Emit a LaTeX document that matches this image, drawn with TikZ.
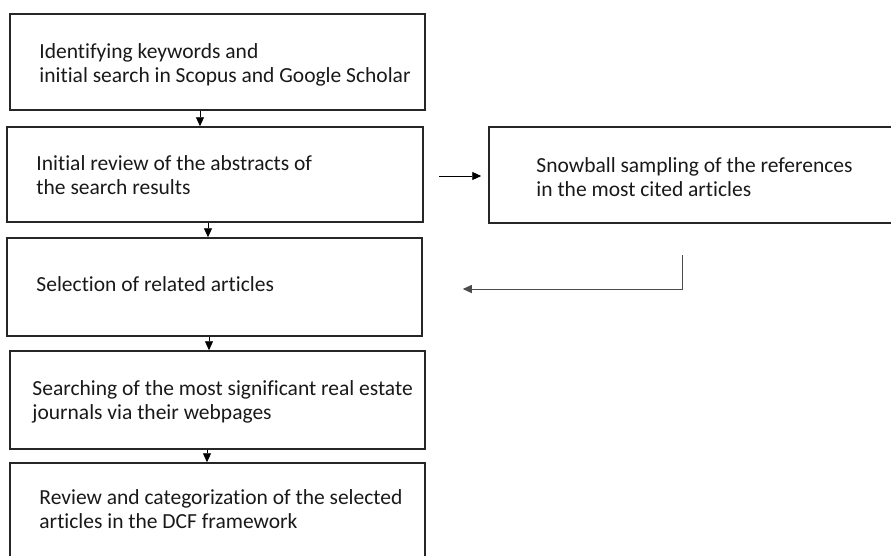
\documentclass[tikz,border=0pt]{standalone}
\usepackage{fontspec}
\setmainfont{Carlito}[Ligatures=NoCommon]
\usetikzlibrary{arrows.meta}
\begin{document}
\begin{tikzpicture}[x=1pt, y=-1pt]
\tikzset{
    every node/.style={align=left},
    stepbox/.style={draw=black!85, line width=1.5pt, inner sep=0pt},
    steptext/.style={anchor=west, inner sep=0pt, font=\fontsize{21.5}{24}\selectfont, text=black!90},
    flow/.style={-{Triangle[width=8pt,length=9pt]}, line width=0.9pt}
}
\useasboundingbox (0,0) rectangle (891,555);

% boxes
\node[stepbox, minimum width=415pt, minimum height=96pt] (s1) at (217.5,62) {};
\node[stepbox, minimum width=416pt, minimum height=95pt] (s2) at (215,174.5) {};
\node[stepbox, minimum width=404pt, minimum height=96pt] (snow) at (691,175) {};
\node[stepbox, minimum width=415pt, minimum height=98pt] (s3) at (214.5,287) {};
\node[stepbox, minimum width=415pt, minimum height=98pt] (s4) at (217.5,400) {};
\node[stepbox, minimum width=415pt, minimum height=98pt] (s5) at (217.5,512) {};

% texts
\node[steptext] (t1) at ([xshift=30pt,yshift=-2.5pt]s1.west)
    {Identifying keywords and\\initial search in Scopus and Google Scholar};
\node[steptext] (t2) at ([xshift=30pt,yshift=-0.75pt]s2.west)
    {Initial review of the abstracts of\\the search results};
\node[steptext] (tsnow) at ([xshift=48pt,yshift=-2.25pt]snow.west)
    {Snowball sampling of the references\\in the most cited articles};
\node[steptext] (t3) at ([xshift=30pt,yshift=3pt]s3.west)
    {Selection of related articles};
\node[steptext] (t4) at ([xshift=23pt,yshift=-1.5pt]s4.west)
    {Searching of the most significant real estate\\journals via their webpages};
\node[steptext] (t5) at ([xshift=30pt,yshift=2.75pt]s5.west)
    {Review and categorization of the selected\\articles in the DCF framework};

% arrows
\draw[flow] ([xshift=-17.5pt]s1.south) -- ([xshift=-15pt]s2.north);
\draw[flow] ([xshift=-7pt]s2.south) -- ([xshift=-6.5pt]s3.north);
\draw[flow] ([xshift=-5.5pt]s3.south) -- ([xshift=-8.5pt]s4.north);
\draw[flow] ([xshift=-10.5pt]s4.south) -- ([xshift=-10.5pt]s5.north);
\draw[flow] ([xshift=15pt,yshift=-1.5pt]s2.east) -- ([xshift=-7pt,yshift=-1pt]snow.west);
\coordinate (turn) at (682,255);
\draw[flow, draw=black!70] (turn) |- ([xshift=40pt,yshift=-2pt]s3.east);
\end{tikzpicture}
\end{document}
